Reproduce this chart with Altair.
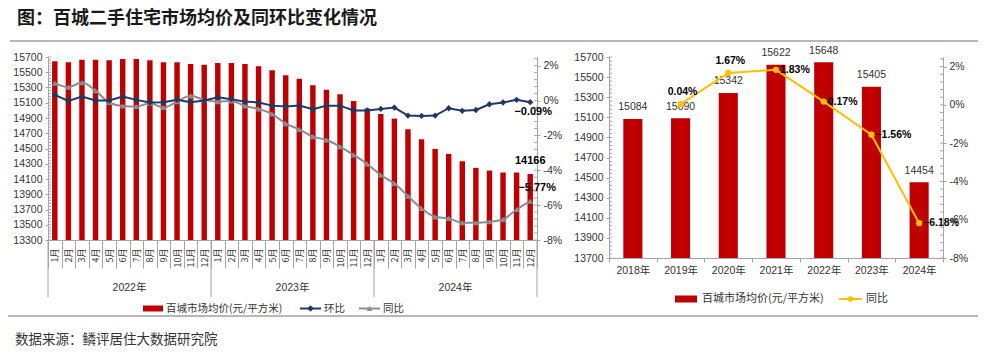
import altair as alt
import pandas as pd

# ---------------- data ----------------
years = ["2022", "2023", "2024"]
month_nums = list(range(1, 13))
price_monthly = [15643, 15630, 15665, 15665, 15656, 15674, 15674, 15656, 15630, 15630, 15608, 15600,
                 15621, 15621, 15608, 15578, 15525, 15460, 15416, 15329, 15272, 15211, 15124, 15023,
                 14953, 14892, 14752, 14621, 14495, 14429, 14333, 14246, 14211, 14185, 14185, 14166]
mom_monthly = [0.33, -0.02, 0.23, 0.00, 0.00, 0.23, 0.04, -0.11, -0.10, 0.04, -0.10, 0.00,
               0.19, 0.08, -0.06, -0.11, -0.29, -0.34, -0.29, -0.50, -0.29, -0.29, -0.57, -0.57,
               -0.48, -0.40, -0.86, -0.88, -0.86, -0.44, -0.59, -0.54, -0.21, -0.11, 0.04, -0.09]
yoy_monthly = [1.00, 0.77, 1.03, 0.57, -0.11, -0.31, -0.34, -0.15, -0.40, -0.06, 0.27, 0.04,
               -0.06, -0.02, -0.31, -0.48, -0.77, -1.32, -1.65, -2.07, -2.26, -2.64, -3.12, -3.64,
               -4.27, -4.75, -5.48, -6.19, -6.67, -6.76, -7.01, -7.01, -6.95, -6.82, -6.25, -5.77]

annual_years = ["2018年", "2019年", "2020年", "2021年", "2022年", "2023年", "2024年"]
annual_price = [15084, 15090, 15342, 15622, 15648, 15405, 14454]
annual_yoy = [None, 0.04, 1.67, 1.83, 0.17, -1.56, -6.18]

title_text = "图：百城二手住宅市场均价及同环比变化情况"
source_text = "数据来源：鳞评居住大数据研究院"
legend_price = "百城市场均价(元/平方米)"
legend_mom = "环比"
legend_yoy = "同比"

# ---------------- styles ----------------
RED = "#C00000"
NAVY = "#1F3864"
GRAY = "#8C8C8C"
YELLOW = "#FFC000"
AX = "#A6A6A6"
TXT = "#333333"
NUM = "Liberation Sans, Arial, Noto Sans CJK SC"
CJK = "Noto Sans CJK SC"

keys = [f"{y}-{m}" for y in years for m in month_nums]
df = pd.DataFrame({
    "key": keys,
    "price": price_monthly,
    "mom": mom_monthly,
    "yoy": yoy_monthly,
})
last_key = keys[-1]

df2 = pd.DataFrame({"yr": annual_years, "price": annual_price, "yoy": annual_yoy})

one = pd.DataFrame({"d": [0]})

W1, H1 = 489, 183
W2, H2 = 334, 201

# ---------------- left panel ----------------
def xL(bp=None):
    kw = {}
    if bp is not None:
        kw["bandPosition"] = bp
    return alt.X(
        "key:N", sort=keys,
        scale=alt.Scale(domain=keys, paddingInner=0, paddingOuter=0),
        axis=alt.Axis(title=None,
                      labelExpr="isValid(datum.value) ? split(datum.value, '-')[1] + '月' : ''",
                      labelAngle=270, labelFontSize=9, labelFont=CJK, labelColor=TXT,
                      tickBand="extent", tickSize=28, labelPadding=-20, labelOverlap=False,
                      domainColor=AX, tickColor=AX, grid=False),
        **kw)

price_scale_L = alt.Scale(domain=[13300, 15700], zero=False, nice=False)
pct_scale = alt.Scale(domain=[-8, 2.5], zero=False, nice=False)

base = alt.Chart(df)

bars = base.mark_bar(color=RED, width=alt.RelativeBandSize(0.4), clip=True).encode(
    x=xL(),
    y=alt.Y("price:Q", scale=price_scale_L,
            axis=alt.Axis(orient="left", values=list(range(13300, 15701, 200)), title=None,
                          format="d", tickSize=3, labelPadding=3, labelFontSize=10.5,
                          labelFont=NUM, labelColor=TXT, domainColor=AX, tickColor=AX,
                          grid=False, labelFlush=False)),
    y2=alt.datum(13300),
)

yoy_line = base.mark_line(color=GRAY, strokeWidth=2, interpolate="monotone",
                          point=alt.OverlayMarkDef(shape="triangle-up", size=35, filled=True,
                                                   color=GRAY)).encode(
    x=xL(),
    y=alt.Y("yoy:Q", scale=pct_scale, axis=None),
)

mom_line = base.mark_line(color=NAVY, strokeWidth=2,
                          point=alt.OverlayMarkDef(shape="diamond", size=40, filled=True,
                                                   color=NAVY)).encode(
    x=xL(),
    y=alt.Y("mom:Q", scale=pct_scale,
            axis=alt.Axis(orient="right", values=[-8, -6, -4, -2, 0, 2],
                          labelExpr="datum.value + '%'", title=None, tickSize=3,
                          labelPadding=3, labelFontSize=10.5, labelFont=NUM, labelColor=TXT,
                          domainColor=AX, tickColor=AX, grid=False, labelFlush=False)),
)

minor_left_L = alt.Chart(pd.DataFrame({"v": list(range(13300, 15701, 40))})).mark_rule(
    color=AX).encode(y=alt.Y("v:Q", scale=price_scale_L, axis=None),
                     x=alt.value(0), x2=alt.value(3))
minor_right_L = alt.Chart(pd.DataFrame({"v": [round(-8 + 0.4 * i, 1) for i in range(27)]})).mark_rule(
    color=AX).encode(y=alt.Y("v:Q", scale=pct_scale, axis=None),
                     x=alt.value(W1 - 3), x2=alt.value(W1))

price_label = base.transform_filter(alt.datum.key == last_key).mark_text(
    fontWeight="bold", fontSize=11, font=NUM, color="#000000", dy=-13, baseline="middle").encode(
    x=xL(), y=alt.Y("price:Q", scale=price_scale_L, axis=None), text="price:Q")

mom_label = base.transform_filter(alt.datum.key == last_key).transform_calculate(
    lbl="format(datum.mom, '.2f') + '%'").mark_text(
    fontWeight="bold", fontSize=11, font=NUM, color="#000000", dx=3, dy=10, baseline="middle").encode(
    x=xL(), y=alt.Y("mom:Q", scale=pct_scale, axis=None), text="lbl:N")

yoy_label = base.transform_filter(alt.datum.key == last_key).transform_calculate(
    lbl="format(datum.yoy, '.2f') + '%'").mark_text(
    fontWeight="bold", fontSize=11, font=NUM, color="#000000", dx=7, dy=-13, baseline="middle").encode(
    x=xL(), y=alt.Y("yoy:Q", scale=pct_scale, axis=None), text="lbl:N")

seps = alt.Chart(pd.DataFrame({"key": [f"{y}-1" for y in years]})).mark_rule(color=AX).encode(
    x=xL(0), y=alt.value(H1), y2=alt.value(H1 + 57))
sep_end = alt.Chart(pd.DataFrame({"key": [last_key]})).mark_rule(color=AX).encode(
    x=xL(1), y=alt.value(H1), y2=alt.value(H1 + 57))
year_labels = alt.Chart(pd.DataFrame({"key": [f"{y}-7" for y in years],
                                      "lab": [f"{y}年" for y in years]})).mark_text(
    fontSize=10.5, font=NUM, color=TXT, baseline="middle").encode(
    x=xL(0), y=alt.value(H1 + 48), text="lab:N")

deco = alt.Chart(one)
canvas = deco.mark_rect(opacity=0).encode(x=alt.value(-48), x2=alt.value(940),
                                           y=alt.value(-57), y2=alt.value(298))
title_mark = deco.mark_text(text=title_text, font=CJK, fontSize=18, fontWeight="bold",
                            color="#1a1a1a", align="left", baseline="middle").encode(
    x=alt.value(-31), y=alt.value(-38))
top_line = deco.mark_rule(color="#A0A0A0", strokeWidth=1.5).encode(
    x=alt.value(-38), x2=alt.value(930), y=alt.value(-16))
bottom_line = deco.mark_rule(color="#A0A0A0", strokeWidth=1.5).encode(
    x=alt.value(-40), x2=alt.value(930), y=alt.value(259))
source_mark = deco.mark_text(text=source_text, font=CJK, fontSize=13.5, color=TXT,
                             align="left", baseline="middle").encode(
    x=alt.value(-33), y=alt.value(283))

LY = 251.5
legL = [
    deco.mark_rect(color=RED).encode(x=alt.value(95), x2=alt.value(115),
                                     y=alt.value(LY - 3), y2=alt.value(LY + 3)),
    deco.mark_text(text=legend_price, font=CJK, fontSize=10.5, color=TXT, align="left",
                   baseline="middle").encode(x=alt.value(118), y=alt.value(LY)),
    deco.mark_rule(color=NAVY, strokeWidth=2).encode(x=alt.value(252), x2=alt.value(273),
                                                     y=alt.value(LY)),
    deco.mark_point(shape="diamond", size=40, filled=True, color=NAVY, opacity=1).encode(
        x=alt.value(262.5), y=alt.value(LY)),
    deco.mark_text(text=legend_mom, font=CJK, fontSize=10.5, color=TXT, align="left",
                   baseline="middle").encode(x=alt.value(276), y=alt.value(LY)),
    deco.mark_rule(color=GRAY, strokeWidth=2).encode(x=alt.value(311), x2=alt.value(332),
                                                     y=alt.value(LY)),
    deco.mark_point(shape="triangle-up", size=35, filled=True, color=GRAY, opacity=1).encode(
        x=alt.value(321.5), y=alt.value(LY)),
    deco.mark_text(text=legend_yoy, font=CJK, fontSize=10.5, color=TXT, align="left",
                   baseline="middle").encode(x=alt.value(335), y=alt.value(LY)),
]

left = alt.layer(
    canvas, top_line, bottom_line, title_mark, source_mark,
    bars, minor_left_L, minor_right_L, yoy_line, mom_line,
    price_label, mom_label, yoy_label, seps, sep_end, year_labels, *legL,
).resolve_scale(y="independent").properties(width=W1, height=H1)

# ---------------- right panel ----------------
xR = alt.X("yr:N", sort=annual_years,
           scale=alt.Scale(domain=annual_years, paddingInner=0, paddingOuter=0),
           axis=alt.Axis(title=None, labelAngle=0, tickBand="extent", tickSize=4,
                         labelPadding=3, labelFontSize=10.5, labelFont=NUM, labelColor=TXT,
                         domainColor=AX, tickColor=AX, grid=False))
price_scale_R = alt.Scale(domain=[13700, 15700], zero=False, nice=False)

base2 = alt.Chart(df2)
bars2 = base2.mark_bar(color=RED, width=alt.RelativeBandSize(0.4), clip=True).encode(
    x=xR,
    y=alt.Y("price:Q", scale=price_scale_R,
            axis=alt.Axis(orient="left", values=list(range(13700, 15701, 200)), title=None,
                          format="d", tickSize=3, labelPadding=3, labelFontSize=10.5,
                          labelFont=NUM, labelColor=TXT, domainColor=AX, tickColor=AX,
                          grid=False, labelFlush=False)),
    y2=alt.datum(13700),
)
bar_labels2 = base2.mark_text(fontSize=10.5, font=NUM, color=TXT, dy=-11.5,
                              baseline="middle").encode(
    x=xR, y=alt.Y("price:Q", scale=price_scale_R, axis=None), text="price:Q")

valid = base2.transform_filter("isValid(datum.yoy)")
yoy2 = valid.mark_line(color=YELLOW, strokeWidth=2,
                       point=alt.OverlayMarkDef(shape="circle", size=40, filled=True,
                                                color=YELLOW)).encode(
    x=xR,
    y=alt.Y("yoy:Q", scale=pct_scale,
            axis=alt.Axis(orient="right", values=[-8, -6, -4, -2, 0, 2],
                          labelExpr="datum.value + '%'", title=None, tickSize=3,
                          labelPadding=3, labelFontSize=10.5, labelFont=NUM, labelColor=TXT,
                          domainColor=AX, tickColor=AX, grid=False, labelFlush=False)),
)
lab_base = valid.transform_calculate(lbl="format(datum.yoy, '.2f') + '%'")
yoy_lab_above = lab_base.transform_filter(
    alt.FieldOneOfPredicate(field="yr", oneOf=annual_years[1:3])).mark_text(
    fontWeight="bold", fontSize=10.5, font=NUM, color="#000000", dx=2, dy=-12,
    baseline="middle").encode(x=xR, y=alt.Y("yoy:Q", scale=pct_scale, axis=None), text="lbl:N")
yoy_lab_right = lab_base.transform_filter(
    alt.FieldOneOfPredicate(field="yr", oneOf=annual_years[3:])).mark_text(
    fontWeight="bold", fontSize=10.5, font=NUM, color="#000000", dx=4, align="left",
    baseline="middle").encode(x=xR, y=alt.Y("yoy:Q", scale=pct_scale, axis=None), text="lbl:N")

minor_left_R = alt.Chart(pd.DataFrame({"v": list(range(13700, 15701, 40))})).mark_rule(
    color=AX).encode(y=alt.Y("v:Q", scale=price_scale_R, axis=None),
                     x=alt.value(0), x2=alt.value(3))
minor_right_R = alt.Chart(pd.DataFrame({"v": [round(-8 + 0.4 * i, 1) for i in range(27)]})).mark_rule(
    color=AX).encode(y=alt.Y("v:Q", scale=pct_scale, axis=None),
                     x=alt.value(W2 - 3), x2=alt.value(W2))

RY = 242
legR = [
    deco.mark_rect(color=RED).encode(x=alt.value(66), x2=alt.value(88),
                                     y=alt.value(RY - 3.5), y2=alt.value(RY + 3.5)),
    deco.mark_text(text=legend_price, font=CJK, fontSize=11, color=TXT, align="left",
                   baseline="middle").encode(x=alt.value(93), y=alt.value(RY)),
    deco.mark_rule(color=YELLOW, strokeWidth=2).encode(x=alt.value(230), x2=alt.value(253),
                                                       y=alt.value(RY)),
    deco.mark_point(shape="circle", size=30, filled=True, color=YELLOW, opacity=1).encode(
        x=alt.value(241.5), y=alt.value(RY)),
    deco.mark_text(text=legend_yoy, font=CJK, fontSize=11, color=TXT, align="left",
                   baseline="middle").encode(x=alt.value(257), y=alt.value(RY)),
]

right = alt.layer(
    bars2, minor_left_R, minor_right_R, bar_labels2, yoy2, yoy_lab_above, yoy_lab_right, *legR,
).resolve_scale(y="independent").properties(width=W2, height=H2)

chart = alt.hconcat(left, right, spacing=72, bounds="flush").properties(
    padding=0, background="white"
).configure_view(strokeWidth=0)

chart.save("out.html", embed_options={"renderer": "svg", "actions": False})
